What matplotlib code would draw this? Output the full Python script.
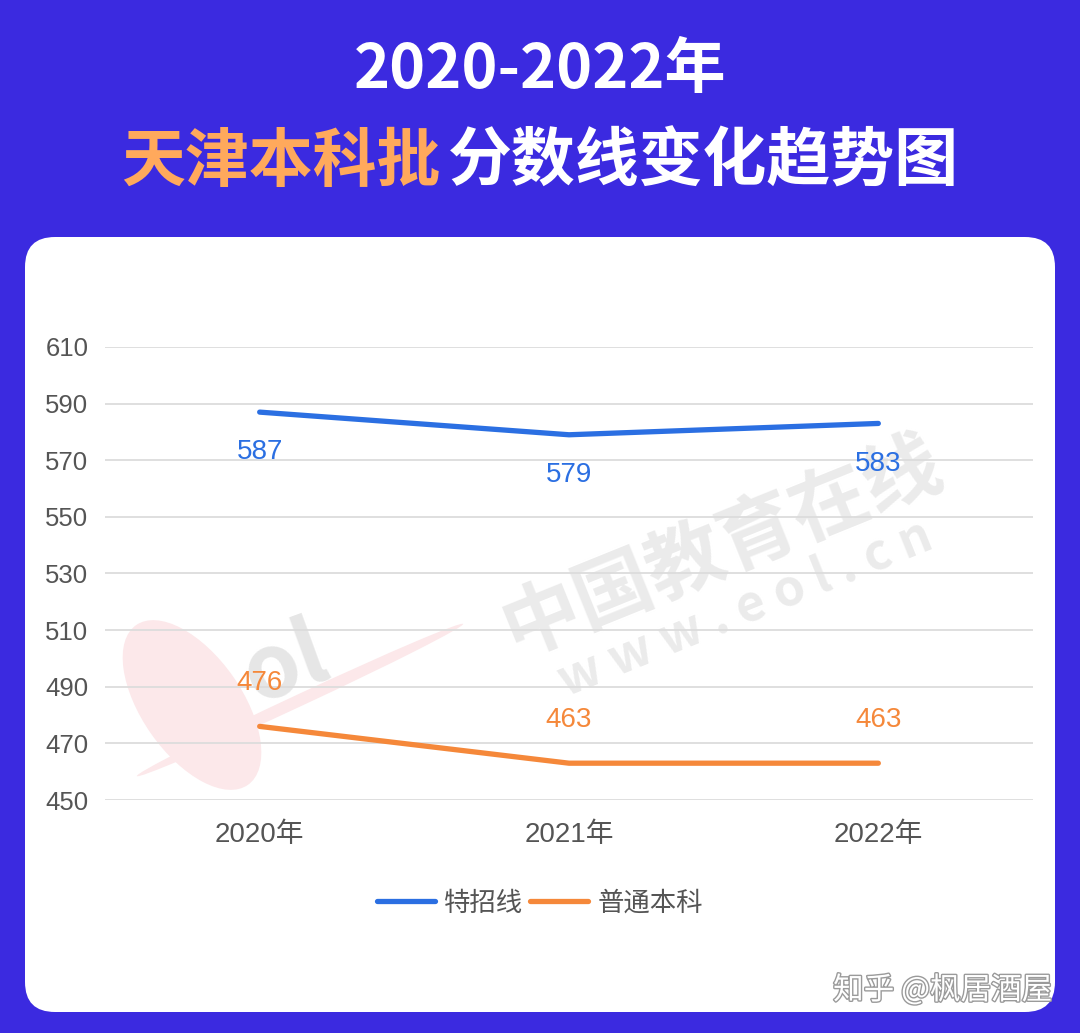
import matplotlib
matplotlib.use("Agg")
import matplotlib.pyplot as plt
from matplotlib.patches import FancyBboxPatch, Ellipse
from matplotlib.lines import Line2D
import matplotlib.patheffects as pe

plt.rcParams['font.family'] = ['Liberation Sans', 'Noto Sans CJK SC', 'DejaVu Sans']
CJK = ['Noto Sans CJK SC', 'DejaVu Sans']

# ---- data ----
years = ["2020年", "2021年", "2022年"]
special = [587, 579, 583]      # 特招线
regular = [476, 463, 463]      # 普通本科
series_names = ["特招线", "普通本科"]
yticks = [450, 470, 490, 510, 530, 550, 570, 590, 610]
title1 = "2020-2022年"
title2a = "天津本科批"
title2b = "分数线变化趋势图"
credit = "知乎 @枫居酒屋"

BG = "#3B2AE0"
BLUE = "#2B6FE2"
ORANGE = "#F5883A"
W, H = 1080, 1033

fig = plt.figure(figsize=(W / 100, H / 100), dpi=100)
fig.patch.set_facecolor(BG)

# background axes in pixel coordinates
bg = fig.add_axes([0, 0, 1, 1])
bg.set_xlim(0, W)
bg.set_ylim(H, 0)
bg.axis("off")
card = FancyBboxPatch((25, 237), 1030, 775, boxstyle="round,pad=0,rounding_size=30",
                      facecolor="white", edgecolor="none", zorder=1)
bg.add_patch(card)

# watermarks
bg.text(722, 548, "中国教育在线", fontsize=56, fontweight="bold", color="#EBEBEB",
        rotation=22, ha="center", va="center", zorder=2, family=CJK)
bg.text(745, 608, "w w w . e o l . c n", fontsize=36, fontweight="bold", color="#EBEBEB",
        rotation=22, ha="center", va="center", zorder=2, family=CJK)
bg.add_patch(Ellipse((192, 705), 100, 195, angle=-35, facecolor="#FCE8EA",
                     edgecolor="none", zorder=2))
bg.add_patch(Ellipse((300, 700), 360, 12, angle=-25, facecolor="#FCE8EA",
                     edgecolor="none", zorder=2))
bg.text(285, 665, "ol", fontsize=64, fontweight="bold", color="#E6E6E6",
        rotation=20, ha="center", va="center", zorder=2, family=CJK)

# titles
bg.text(540, 70, title1, fontsize=44, fontweight="heavy", color="white",
        ha="center", va="center", zorder=3, family=CJK)
fig.canvas.draw()
r = fig.canvas.get_renderer()
ta = bg.text(0, 162, title2a, fontsize=46, fontweight="heavy", color="#FFA95C",
             ha="left", va="center", zorder=3, family=CJK)
tb = bg.text(0, 162, title2b, fontsize=46, fontweight="heavy", color="white",
             ha="left", va="center", zorder=3, family=CJK)
wa = ta.get_window_extent(r).width
wb = tb.get_window_extent(r).width
gap = 8
x0 = 540 - (wa + gap + wb) / 2
ta.set_x(x0)
tb.set_x(x0 + wa + gap)

# credit
bg.text(1052, 990, credit, fontsize=22, color="white", ha="right", va="center", zorder=3,
        family=CJK, path_effects=[pe.withStroke(linewidth=2, foreground="#9A9A9A")])

# chart axes
ax = fig.add_axes([105 / W, 1 - 800 / H, (1033 - 105) / W, (800 - 347) / H])
ax.set_facecolor("none")
x = list(range(len(years)))
ax.plot(x, special, color=BLUE, lw=3.8, solid_capstyle="round", solid_joinstyle="round", zorder=5)
ax.plot(x, regular, color=ORANGE, lw=3.8, solid_capstyle="round", solid_joinstyle="round", zorder=5)
for xi, v in zip(x, special):
    ax.annotate(str(v), (xi, v), xytext=(0, -29), textcoords="offset points",
                ha="center", va="center", fontsize=20, color=BLUE)
for xi, v in zip(x, regular):
    ax.annotate(str(v), (xi, v), xytext=(0, 31), textcoords="offset points",
                ha="center", va="center", fontsize=20, color=ORANGE)

ax.set_xlim(-0.5, 2.5)
ax.set_ylim(450, 610)
ax.set_yticks(yticks)
ax.set_xticks(x)
ax.set_xticklabels(years)
ax.tick_params(axis="y", length=0, labelsize=18.5, labelcolor="#555555", pad=12)
ax.tick_params(axis="x", length=0, labelsize=20, labelcolor="#555555", pad=16)
ax.grid(axis="y", color="#DCDCDC", lw=1.3)
for s in ax.spines.values():
    s.set_visible(False)

handles = [Line2D([], [], color=BLUE, lw=3.8, solid_capstyle="round"),
           Line2D([], [], color=ORANGE, lw=3.8, solid_capstyle="round")]
leg = fig.legend(handles, series_names, loc="center", bbox_to_anchor=(540 / W, 1 - 903 / H),
                 ncol=2, frameon=False, prop={'family': CJK, 'size': 19},
                 handlelength=2.2, handletextpad=0.35, columnspacing=0.25)
for t in leg.get_texts():
    t.set_color("#555555")

fig.savefig("out.png", dpi=100, facecolor=BG)
